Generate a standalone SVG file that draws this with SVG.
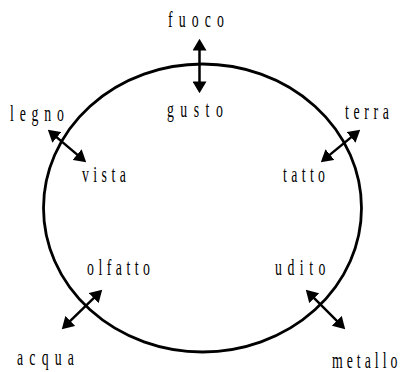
<svg xmlns="http://www.w3.org/2000/svg" width="406" height="372" viewBox="0 0 406 372">
  <style>
    .lbl { font-family: "Liberation Serif", "Times New Roman", serif; font-size: 23px; fill: #000; }
    .conn { stroke: #000; stroke-width: 2.5; fill: none; marker-start: url(#ah); marker-end: url(#ah); }
    .ring { stroke: #000; stroke-width: 2.8; fill: none; }
  </style>
  <defs>
    <marker id="ah" markerUnits="userSpaceOnUse" markerWidth="12" markerHeight="14" viewBox="0 0 11 13" refX="8" refY="6.5" orient="auto-start-reverse">
      <path d="M0,0 L11,6.5 L0,13 z" fill="#000"/>
    </marker>
  </defs>
  <rect width="406" height="372" fill="#fff"/>
  <g id="ring">
    <ellipse class="ring" cx="202.5" cy="208" rx="159" ry="144"/>
  </g>
  <g id="connectors">
    <line class="conn" x1="199.5" y1="42" x2="199.5" y2="90"/>
    <line class="conn" x1="50.3" y1="131.9" x2="83.7" y2="160.1"/>
    <line class="conn" x1="357.7" y1="131.9" x2="323.3" y2="160.1"/>
    <line class="conn" x1="99.9" y1="292.1" x2="64.1" y2="326.9"/>
    <line class="conn" x1="308.1" y1="292.1" x2="342.9" y2="326.9"/>
  </g>
  <g id="fuoco"><text class="lbl" transform="translate(168,27) scale(0.6,1)" textLength="93" lengthAdjust="spacing">fuoco</text></g>
  <g id="gusto"><text class="lbl" transform="translate(167,117) scale(0.6,1)" textLength="93" lengthAdjust="spacing">gusto</text></g>
  <g id="legno"><text class="lbl" transform="translate(10,121) scale(0.6,1)" textLength="90" lengthAdjust="spacing">legno</text></g>
  <g id="vista"><text class="lbl" transform="translate(82,182) scale(0.6,1)" textLength="73" lengthAdjust="spacing">vista</text></g>
  <g id="terra"><text class="lbl" transform="translate(345,119) scale(0.6,1)" textLength="73" lengthAdjust="spacing">terra</text></g>
  <g id="tatto"><text class="lbl" transform="translate(283,182) scale(0.6,1)" textLength="70" lengthAdjust="spacing">tatto</text></g>
  <g id="olfatto"><text class="lbl" transform="translate(87,275) scale(0.6,1)" textLength="105" lengthAdjust="spacing">olfatto</text></g>
  <g id="acqua"><text class="lbl" transform="translate(17,365) scale(0.6,1)" textLength="95" lengthAdjust="spacing">acqua</text></g>
  <g id="udito"><text class="lbl" transform="translate(275,275) scale(0.6,1)" textLength="84" lengthAdjust="spacing">udito</text></g>
  <g id="metallo"><text class="lbl" transform="translate(332,368) scale(0.6,1)" textLength="109" lengthAdjust="spacing">metallo</text></g>
</svg>
